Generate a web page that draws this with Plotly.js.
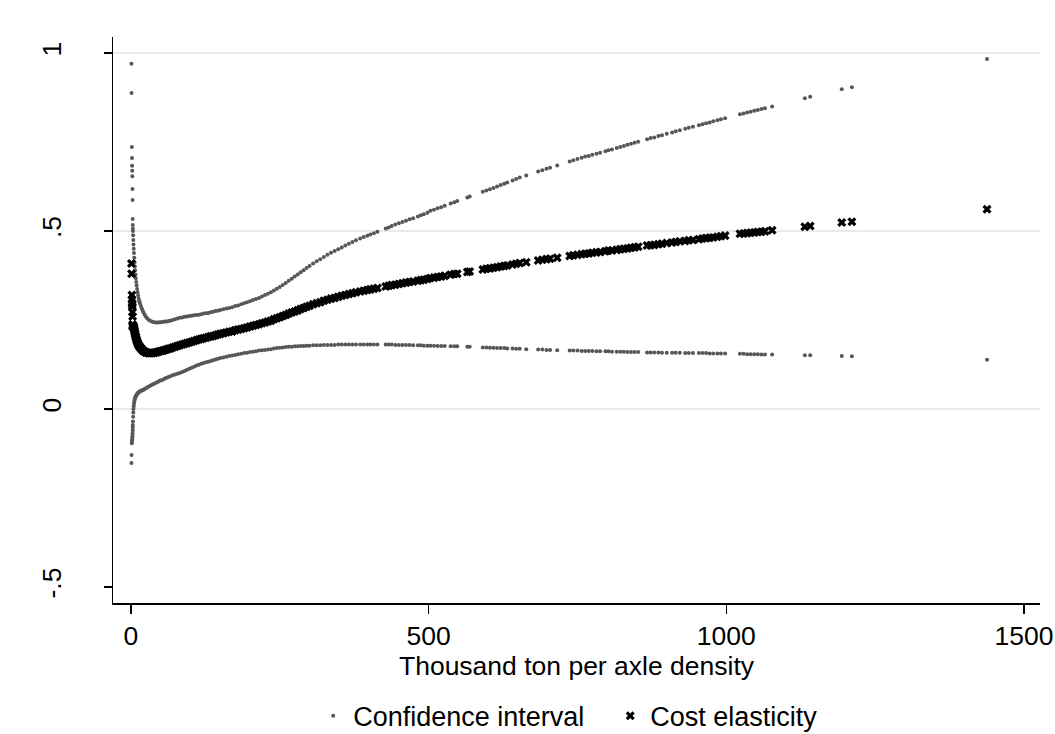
<!DOCTYPE html>
<html>
<head>
<meta charset="utf-8">
<script src="https://cdn.plot.ly/plotly-3.0.1.min.js"></script>
<style>
html,body{margin:0;padding:0;background:#fff;}
#chart{width:1055px;height:734px;}
</style>
</head>
<body>
<div id="chart"></div>
<script>
// Thousand ton per axle density
var density = [
0.8,1.0,1.5,1.7,1.9,2.1,2.3,2.5,2.7,2.9,3.0,3.1,
3.3,3.6,3.9,4.2,4.6,5.0,5.5,6.0,6.5,7.0,7.6,8.2,8.8,9.5,10.3,11.1,12.0,13.0,14.0,15.0,
16.5,18,19.5,21,23,25,27.5,30,33,36,39,42,45,48,51,54,57,60,63,66,70,74,78,82,86,90,94,98,
102,106,110,114,118,122,126,130,134,138,142,146,150,155,160,165,170,175,180,185,190,195,200,
205,210,215,220,225,230,235,240,245,250,255,260,265,270,275,280,285,290,295,300,306,312,318,
324,330,336,342,348,354,360,366,372,378,385,
391,397,402,408,414,428,433,438,444,450,456,462,468,474,482,487,492,498,503,509,515,521,527,
537,543,548,565,569,591,597,603,609,615,621,627,632,641,647,653,664,684,691,698,704,716,
737,743,750,757,763,769,775,782,788,797,802,808,816,822,828,834,840,846,852,867,873,879,886,
892,900,909,915,922,931,937,944,954,960,966,972,978,985,991,998,1023,1029,1035,1041,1047,
1053,1059,1065,1077,1132,1141,1194,1211,1438
];
// Cost elasticity (point estimate)
var elasticity = [
.409,.380,.320,.307,.298,.293,.287,.272,.260,.237,.233,.231,
.233,.233,.233,.231,.229,.227,.223,.219,.215,.211,.206,.202,.198,.194,.190,.186,.182,.179,.176,.174,
.171,.168,.165,.163,.161,.159,.158,.157,.157,.157,.158,.159,.160,.162,.163,.164,.166,.167,.169,.170,.173,.175,.177,.179,.181,.183,.185,.187,
.189,.191,.193,.195,.197,.199,.200,.202,.204,.205,.207,.209,.211,.213,.215,.217,.218,.221,.223,.225,.227,.229,.232,
.234,.236,.238,.241,.243,.246,.248,.252,.255,.258,.261,.264,.268,.271,.274,.277,.281,.284,.287,.290,.294,.297,.300,
.304,.307,.310,.312,.315,.318,.320,.323,.325,.328,.330,
.332,.334,.336,.338,.340,.344,.346,.348,.349,.351,.353,.355,.357,.358,.360,.362,.363,.365,.368,.369,.371,.372,.374,
.377,.379,.380,.385,.386,.392,.394,.395,.397,.398,.400,.402,.403,.406,.408,.410,.412,.417,.419,.421,.422,.425,
.430,.432,.433,.435,.436,.437,.439,.440,.441,.443,.445,.445,.447,.449,.450,.451,.453,.454,.456,.459,.460,.461,.463,
.464,.466,.468,.469,.471,.472,.474,.475,.477,.479,.480,.481,.482,.484,.485,.487,.492,.493,.494,.495,.496,
.497,.498,.499,.502,.512,.514,.524,.526,.561
];
// Confidence interval, lower bound
var ciLow = [
-.152,-.129,-.096,-.092,-.088,-.084,-.080,-.075,-.068,-.060,-.052,-.045,
-.035,-.022,-.010,.000,.008,.015,.020,.025,.029,.032,.034,.036,.038,.040,.042,.044,.045,.047,.048,.050,
.051,.052,.053,.054,.056,.058,.061,.063,.066,.069,.071,.074,.076,.079,.081,.083,.086,.088,.090,.092,.095,.097,.099,.101,.104,.107,.110,.113,
.116,.119,.122,.124,.127,.129,.131,.133,.135,.137,.139,.141,.143,.145,.147,.149,.150,.152,.154,.155,.157,.158,.160,
.161,.162,.164,.165,.166,.167,.168,.170,.171,.172,.173,.174,.175,.175,.176,.176,.177,.177,.178,.178,.179,.179,.179,
.180,.180,.180,.180,.181,.181,.181,.181,.181,.181,.181,
.181,.181,.181,.181,.181,.181,.181,.181,.180,.180,.180,.180,.180,.179,.179,.179,.178,.178,.178,.178,.177,.177,.177,
.176,.176,.176,.175,.175,.173,.173,.172,.172,.171,.171,.171,.170,.170,.169,.169,.168,.167,.167,.166,.166,.165,
.164,.164,.164,.163,.163,.163,.163,.162,.162,.162,.162,.161,.161,.161,.161,.160,.160,.160,.160,.159,.159,.159,.159,
.158,.158,.158,.158,.158,.157,.157,.157,.157,.157,.157,.156,.156,.156,.156,.156,.155,.155,.154,.154,.154,
.154,.153,.153,.153,.151,.151,.149,.148,.138
];
// Confidence interval, upper bound
var ciHigh = [
.970,.888,.736,.705,.683,.669,.654,.618,.587,.534,.517,.506,
.500,.488,.475,.462,.450,.438,.425,.412,.400,.390,.378,.367,.357,.347,.337,.328,.319,.310,.303,.297,
.290,.283,.277,.271,.265,.259,.254,.250,.247,.245,.244,.243,.243,.244,.244,.245,.246,.246,.247,.248,.250,.252,.254,.256,.257,.259,.260,.261,
.262,.263,.264,.265,.266,.268,.269,.270,.272,.273,.275,.276,.278,.280,.282,.284,.286,.289,.291,.294,.297,.300,.303,
.306,.309,.312,.316,.320,.324,.328,.333,.338,.343,.348,.354,.360,.366,.372,.378,.384,.390,.396,.402,.409,.415,.421,
.427,.433,.439,.444,.449,.454,.459,.464,.469,.474,.479,
.483,.487,.490,.494,.498,.507,.510,.514,.518,.522,.525,.529,.533,.536,.541,.544,.547,.551,.557,.560,.564,.567,.571,
.577,.581,.584,.594,.597,.610,.614,.617,.621,.625,.629,.633,.636,.642,.646,.650,.656,.667,.671,.675,.678,.684,
.695,.699,.702,.706,.709,.711,.714,.717,.720,.724,.727,.729,.733,.736,.739,.742,.745,.748,.751,.758,.761,.763,.767,
.769,.773,.777,.780,.783,.787,.790,.793,.797,.800,.803,.805,.808,.811,.814,.817,.828,.830,.833,.835,.838,
.840,.843,.845,.850,.873,.877,.898,.904,.983
];
var xTickVals = [0, 500, 1000, 1500];
var xTickText = ['0', '500', '1000', '1500'];
var yTickVals = [-0.5, 0, 0.5, 1];
var yTickText = ['-.5', '0', '.5', '1'];
var gridVals = [0, 0.5, 1];

var FONT = 'Liberation Sans, Arial, sans-serif';
var FS = 26.5;

var traces = [
  {
    type: 'scatter', mode: 'markers', name: 'Confidence interval',
    x: density.concat(density), y: ciLow.concat(ciHigh),
    marker: {symbol: 'circle', size: 4, color: '#575757', line: {width: 0}},
    hoverinfo: 'x+y'
  },
  {
    type: 'scatter', mode: 'markers', name: 'Cost elasticity',
    x: density, y: elasticity,
    marker: {symbol: 'x', size: 8, color: '#000000', line: {width: 0}},
    hoverinfo: 'x+y'
  }
];

var shapes = gridVals.map(function (v) {
  return {type: 'line', xref: 'paper', yref: 'y', x0: 0, x1: 1, y0: v, y1: v,
          line: {color: '#eaeaea', width: 2}, layer: 'below'};
});

var layout = {
  width: 1055, height: 734,
  paper_bgcolor: '#ffffff', plot_bgcolor: '#ffffff',
  margin: {l: 113, r: 15, t: 37, b: 131, pad: 0, autoexpand: false},
  font: {family: FONT, size: FS, color: '#000'},
  showlegend: true,
  legend: {orientation: 'h', x: 0.216, xanchor: 'left', y: -0.2, yanchor: 'middle',
           entrywidth: 252, entrywidthmode: 'pixels', itemwidth: 30,
           font: {family: FONT, size: 27, color: '#000'}, bgcolor: 'rgba(0,0,0,0)'},
  xaxis: {
    range: [-30.2, 1527], tickmode: 'array', tickvals: xTickVals, ticktext: xTickText,
    showgrid: false, zeroline: false, showline: true, linecolor: '#000', linewidth: 1.5,
    ticks: 'outside', ticklen: 9, tickwidth: 1.5, tickcolor: '#000',
    tickfont: {family: FONT, size: FS, color: '#000'},
    title: {text: 'Thousand ton per axle density', font: {family: FONT, size: FS, color: '#000'}, standoff: 0}
  },
  yaxis: {
    range: [-0.545, 1.045], tickmode: 'array', tickvals: yTickVals, ticktext: yTickText,
    showgrid: false, zeroline: false, showline: true, linecolor: '#000', linewidth: 1.5,
    ticks: 'outside', ticklen: 8, tickwidth: 1.5, tickcolor: '#000', tickangle: -90,
    ticklabelstandoff: 32,
    tickfont: {family: FONT, size: FS, color: '#000'}
  },
  shapes: shapes
};

Plotly.newPlot('chart', traces, layout, {displayModeBar: false, staticPlot: true});
</script>
</body>
</html>
